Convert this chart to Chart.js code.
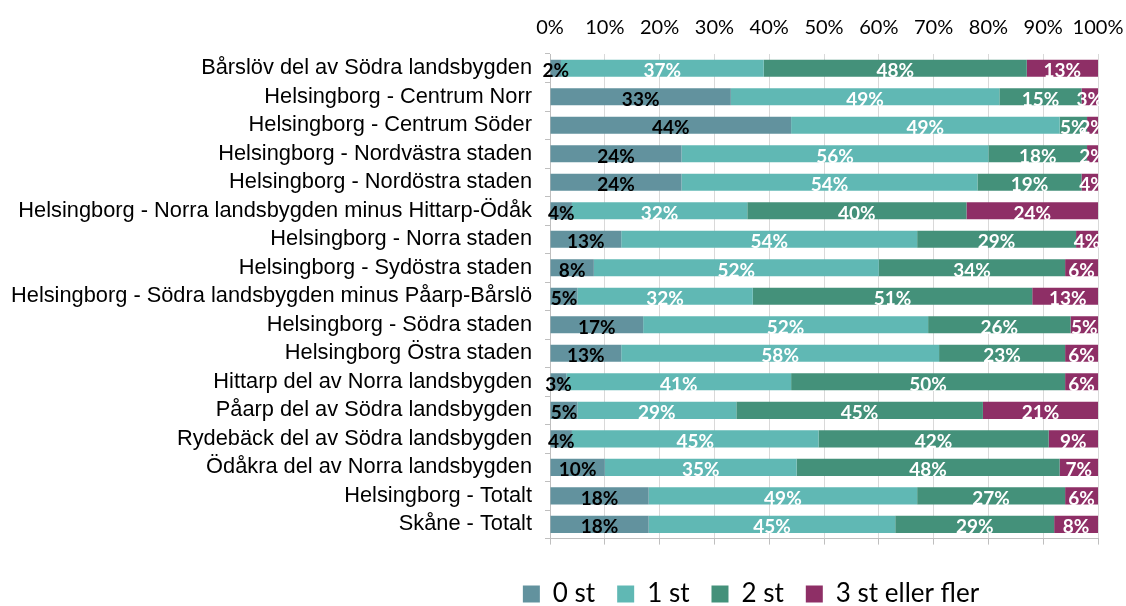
<!DOCTYPE html>
<html>
<head>
<meta charset="utf-8">
<script src="https://cdn.jsdelivr.net/npm/chart.js@4/dist/chart.umd.min.js"></script>
<style>
  html, body { margin: 0; padding: 0; background: #fff; }
  #wrap { width: 1126px; height: 606px; }
</style>
</head>
<body>
<div id="wrap"><canvas id="chart" width="1126" height="606"></canvas></div>
<script>
const categories = [
    "Bårslöv del av Södra landsbygden",
    "Helsingborg - Centrum Norr",
    "Helsingborg - Centrum Söder",
    "Helsingborg - Nordvästra staden",
    "Helsingborg - Nordöstra staden",
    "Helsingborg - Norra landsbygden minus Hittarp-Ödåk",
    "Helsingborg - Norra staden",
    "Helsingborg - Sydöstra staden",
    "Helsingborg - Södra landsbygden minus Påarp-Bårslö",
    "Helsingborg - Södra staden",
    "Helsingborg Östra staden",
    "Hittarp del av Norra landsbygden",
    "Påarp del av Södra landsbygden",
    "Rydebäck del av Södra landsbygden",
    "Ödåkra del av Norra landsbygden",
    "Helsingborg - Totalt",
    "Skåne - Totalt"
];
const st0 = [2, 33, 44, 24, 24, 4, 13, 8, 5, 17, 13, 3, 5, 4, 10, 18, 18];
const st1 = [37, 49, 49, 56, 54, 32, 54, 52, 32, 52, 58, 41, 29, 45, 35, 49, 45];
const st2 = [48, 15, 5, 18, 19, 40, 29, 34, 51, 26, 23, 50, 45, 42, 48, 27, 29];
const st3 = [13, 3, 2, 2, 4, 24, 4, 6, 13, 5, 6, 6, 21, 9, 7, 6, 8];
const seriesNames = ["0 st", "1 st", "2 st", "3 st eller fler"];
const tickValues = [0, 10, 20, 30, 40, 50, 60, 70, 80, 90, 100];

const colors = ["#62929e", "#60b8b4", "#44917a", "#8e2f66"];
const labelColors = ["#000000", "#ffffff", "#ffffff", "#ffffff"];

// draws the percent value in the middle of each bar segment
const segmentLabels = {
    id: "segmentLabels",
    afterDatasetsDraw(chart) {
        const ctx = chart.ctx;
        ctx.save();
        ctx.font = "bold 19px 'Lato', 'DejaVu Sans', sans-serif";
        ctx.textAlign = "center";
        ctx.textBaseline = "middle";
        chart.data.datasets.forEach((ds, i) => {
            const meta = chart.getDatasetMeta(i);
            meta.data.forEach((bar, j) => {
                const v = ds.data[j];
                if (!v) return;
                const cx = (bar.x + bar.base) / 2;
                ctx.fillStyle = labelColors[i];
                ctx.fillText(v + "%", cx, bar.y + 3);
            });
        });
        ctx.restore();
    }
};

// legend sits a bit right of the canvas centre in the original
const legendShift = {
    id: "legendShift",
    afterLayout(chart) {
        chart.legend.left += 198;
        chart.legend.right += 198;
    }
};

const ctx = document.getElementById("chart").getContext("2d");
new Chart(ctx, {
    type: "bar",
    data: {
        labels: categories,
        datasets: [st0, st1, st2, st3].map((d, i) => ({
            label: seriesNames[i],
            data: d,
            backgroundColor: colors[i],
            borderWidth: 0,
            barPercentage: 0.6,
            categoryPercentage: 1.0
        }))
    },
    options: {
        indexAxis: "y",
        responsive: false,
        animation: false,
        layout: { padding: { top: 2, right: 28, left: 8, bottom: -11 } },
        scales: {
            x: {
                stacked: true,
                position: "top",
                min: 0,
                max: 100,
                afterBuildTicks: s => { s.ticks = tickValues.map(v => ({ value: v })); },
                afterFit: s => { s.paddingLeft = 0; s.paddingRight = 0; },
                ticks: {
                    callback: v => v + "%",
                    color: "#000",
                    padding: 14,
                    autoSkip: false,
                    maxRotation: 0,
                    font: { family: "'Lato', sans-serif", size: 20 }
                },
                grid: { color: "#d9d9d9", drawTicks: false },
                border: { display: false }
            },
            x2: {
                type: "linear",
                position: "bottom",
                min: 0,
                max: 100,
                afterBuildTicks: s => { s.ticks = tickValues.map(v => ({ value: v })); },
                afterFit: s => { s.paddingLeft = 0; s.paddingRight = 0; },
                ticks: { callback: () => "", padding: 0 },
                grid: { drawOnChartArea: false, tickColor: "#bfbfbf", tickLength: 6 },
                border: { display: true, color: "#bfbfbf" }
            },
            y: {
                stacked: true,
                afterFit: s => { s.width = 542; },
                ticks: {
                    color: "#000",
                    padding: 13,
                    autoSkip: false,
                    font: { family: "'Liberation Sans', Arial, sans-serif", size: 21.8 }
                },
                grid: { drawOnChartArea: false, tickColor: "#bfbfbf", tickLength: 5 },
                border: { display: true, color: "#bfbfbf" }
            }
        },
        plugins: {
            legend: {
                position: "bottom",
                labels: {
                    color: "#000",
                    boxWidth: 17,
                    boxHeight: 17,
                    padding: 22,
                    font: { family: "'Lato', sans-serif", size: 26 }
                }
            },
            tooltip: { enabled: false }
        }
    },
    plugins: [segmentLabels, legendShift]
});
</script>
</body>
</html>
